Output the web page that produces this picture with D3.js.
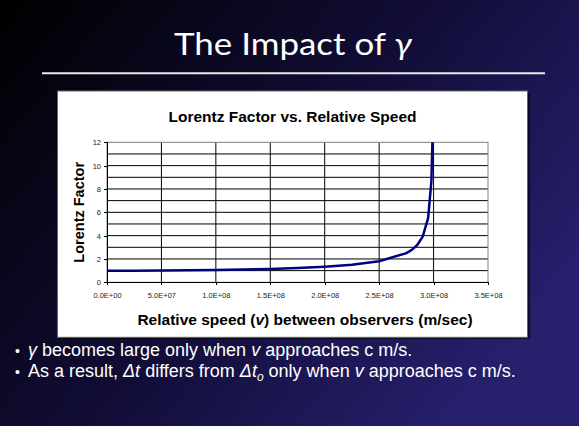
<!DOCTYPE html>
<html lang="en">
<head>
  <meta charset="utf-8">
  <script src="https://d3js.org/d3.v7.min.js"></script>
  <style>
    body { margin: 0; padding: 0; background: #000; }
    svg { display: block; }
    .axis path, .axis line { stroke: #000; shape-rendering: crispEdges; }
    .axis text { fill: #222; font-family: Arial, "Liberation Sans", sans-serif; font-size: 7.5px; }
    .grid line { stroke: #000; stroke-width: 1; }
    .ctitle { font-family: Arial, "Liberation Sans", sans-serif; font-weight: bold; fill: #000; }
    .bullet { font-family: Arial, "Liberation Sans", sans-serif; font-size: 18px; fill: #fff; }
  </style>
</head>
<body>
  <svg id="slide" width="579" height="426"></svg>

  <script>
    // speed (m/s) and Lorentz factor
    const speeds = [0, 2.5e7, 5e7, 7.5e7, 1e8, 1.25e8, 1.5e8, 1.75e8, 2e8, 2.25e8,
                    2.5e8, 2.75e8, 2.8e8, 2.85e8, 2.9e8, 2.95e8, 2.98e8, 2.99e8];
    const gammas = [1.00, 1.00, 1.01, 1.03, 1.06, 1.09, 1.15, 1.22, 1.34, 1.51,
                    1.81, 2.50, 2.78, 3.20, 3.91, 5.50, 8.67, 12.25];
    const xTicks = [0, 5e7, 1e8, 1.5e8, 2e8, 2.5e8, 3e8, 3.5e8];
    const xTickLabels = ["0.0E+00", "5.0E+07", "1.0E+08", "1.5E+08", "2.0E+08", "2.5E+08", "3.0E+08", "3.5E+08"];
    const yTicks = [0, 2, 4, 6, 8, 10, 12];
    const yGrid = [1, 2, 3, 4, 5, 6, 7, 8, 9, 10, 11];

    const W = 579, H = 426;
    const plot = {left: 107, right: 488, top: 142.3, bottom: 282.3};

    const svg = d3.select("#slide");

    // background
    const defs = svg.append("defs");
    const bg = defs.append("linearGradient").attr("id", "bg")
      .attr("x1", "0%").attr("y1", "0%").attr("x2", "100%").attr("y2", "60%");
    bg.append("stop").attr("offset", "0%").attr("stop-color", "#000000");
    bg.append("stop").attr("offset", "55%").attr("stop-color", "#110d36");
    bg.append("stop").attr("offset", "100%").attr("stop-color", "#261f6c");
    svg.append("rect").attr("width", W).attr("height", H).attr("fill", "url(#bg)");

    // slide title
    const title = svg.append("text")
      .attr("x", 293).attr("y", 54.5)
      .attr("text-anchor", "middle")
      .attr("font-family", "Lato, 'Open Sans', sans-serif")
      .attr("font-size", 31)
      .attr("fill", "#fff")
      .attr("textLength", 238)
      .attr("lengthAdjust", "spacingAndGlyphs");
    title.append("tspan").text("The Impact of ");
    title.append("tspan").attr("font-style", "italic").text("γ");

    svg.append("line")
      .attr("x1", 42).attr("x2", 545).attr("y1", 73.3).attr("y2", 73.3)
      .attr("stroke", "#e8e8e8").attr("stroke-width", 2);

    // chart box
    svg.append("rect").attr("x", 59).attr("y", 93).attr("width", 471).attr("height", 246)
      .attr("fill", "#000").attr("opacity", 0.6);
    svg.append("rect").attr("x", 57.5).attr("y", 91).attr("width", 470).attr("height", 246.3)
      .attr("fill", "#fff").attr("stroke", "#666").attr("stroke-width", 1);

    svg.append("text").attr("class", "ctitle")
      .attr("x", 292.5).attr("y", 122).attr("text-anchor", "middle")
      .attr("font-size", 15.5)
      .text("Lorentz Factor vs. Relative Speed");

    const x = d3.scaleLinear().domain([0, 3.5e8]).range([plot.left, plot.right]);
    const y = d3.scaleLinear().domain([0, 12]).range([plot.bottom, plot.top]);

    const g = svg.append("g");

    // grid
    g.append("g").attr("class", "grid")
      .selectAll("line").data(yGrid).join("line")
      .attr("x1", plot.left).attr("x2", plot.right)
      .attr("y1", d => y(d)).attr("y2", d => y(d));
    g.append("g").attr("class", "grid")
      .selectAll("line").data(xTicks.slice(1, -1)).join("line")
      .attr("x1", d => x(d)).attr("x2", d => x(d))
      .attr("y1", plot.top).attr("y2", plot.bottom);

    // plot border
    g.append("rect")
      .attr("x", plot.left).attr("y", plot.top)
      .attr("width", plot.right - plot.left).attr("height", plot.bottom - plot.top)
      .attr("fill", "none").attr("stroke", "#808080").attr("stroke-width", 1);

    // axes
    g.append("g").attr("class", "axis")
      .attr("transform", `translate(0,${plot.bottom})`)
      .call(d3.axisBottom(x).tickValues(xTicks).tickSize(3).tickPadding(7)
        .tickFormat((d, i) => xTickLabels[i]));
    g.append("g").attr("class", "axis")
      .attr("transform", `translate(${plot.left},0)`)
      .call(d3.axisLeft(y).tickValues(yTicks).tickSize(3).tickPadding(3));

    // curve
    defs.append("clipPath").attr("id", "clip")
      .append("rect").attr("x", plot.left).attr("y", plot.top)
      .attr("width", plot.right - plot.left).attr("height", plot.bottom - plot.top);

    const line = d3.line().x((d, i) => x(speeds[i])).y(d => y(d));
    g.append("path")
      .datum(gammas)
      .attr("clip-path", "url(#clip)")
      .attr("d", line)
      .attr("fill", "none")
      .attr("stroke", "#000080")
      .attr("stroke-width", 2.5)
      .attr("stroke-linejoin", "round");

    // axis titles
    const xt = svg.append("text").attr("class", "ctitle")
      .attr("x", 305).attr("y", 324.5).attr("text-anchor", "middle")
      .attr("font-size", 15.5);
    xt.append("tspan").text("Relative speed (");
    xt.append("tspan").attr("font-style", "italic").text("v");
    xt.append("tspan").text(") between observers (m/sec)");

    svg.append("text").attr("class", "ctitle")
      .attr("transform", `translate(84,${(plot.top + plot.bottom) / 2}) rotate(-90)`)
      .attr("text-anchor", "middle")
      .attr("font-size", 14.5)
      .text("Lorentz Factor");

    // bullets
    const b1 = svg.append("text").attr("class", "bullet").attr("x", 15).attr("y", 356);
    b1.append("tspan").attr("font-size", 14).text("•");
    b1.append("tspan").attr("x", 28).attr("font-style", "italic").text("γ");
    b1.append("tspan").text(" becomes large only when ");
    b1.append("tspan").attr("font-style", "italic").text("v");
    b1.append("tspan").text(" approaches c m/s.");

    const b2 = svg.append("text").attr("class", "bullet").attr("x", 15).attr("y", 377);
    b2.append("tspan").attr("font-size", 14).text("•");
    b2.append("tspan").attr("x", 28).text("As a result, ");
    b2.append("tspan").attr("font-style", "italic").text("Δt");
    b2.append("tspan").text(" differs from ");
    b2.append("tspan").attr("font-style", "italic").text("Δt");
    b2.append("tspan").attr("font-style", "italic").attr("font-size", 12).attr("dy", 4).text("o");
    b2.append("tspan").attr("dy", -4).text(" only when ");
    b2.append("tspan").attr("font-style", "italic").text("v");
    b2.append("tspan").text(" approaches c m/s.");
  </script>
</body>
</html>
